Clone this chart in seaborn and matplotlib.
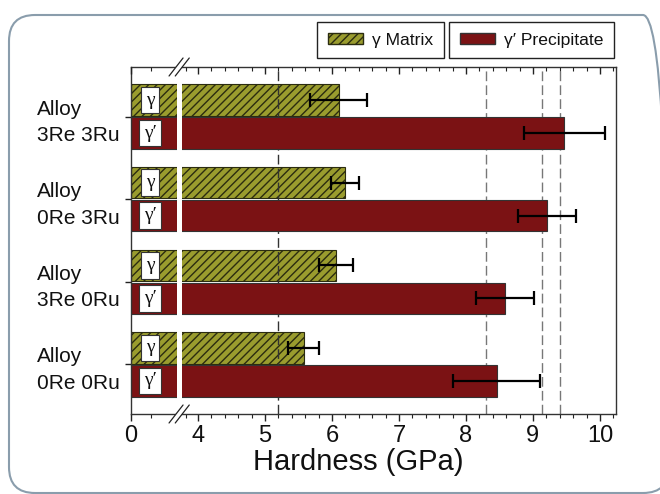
import numpy as np
import pandas as pd
import matplotlib
matplotlib.use("Agg")
import matplotlib.pyplot as plt
import seaborn as sns
from matplotlib.patches import Patch, FancyBboxPatch, Polygon
from matplotlib.transforms import IdentityTransform

# ---- data ----
alloys = ["Alloy\n3Re 3Ru", "Alloy\n0Re 3Ru", "Alloy\n3Re 0Ru", "Alloy\n0Re 0Ru"]
phases = ["γ Matrix", "γ′ Precipitate"]
gamma_hardness = [6.10, 6.20, 6.06, 5.58]
gamma_err = [0.43, 0.21, 0.25, 0.23]
gprime_hardness = [9.47, 9.21, 8.58, 8.46]
gprime_err = [0.60, 0.43, 0.43, 0.65]
ref_lines = [5.2, 8.3, 9.14, 9.4]
xtick_values = [0, 4, 5, 6, 7, 8, 9, 10]
box_labels = ["γ", "γ′"]

OLIVE = "#9a9c2e"
HATCH = "#2b2c10"
RED = "#7b1214"
INK = "#111111"

df = pd.DataFrame({
    "alloy": alloys * 2,
    "phase": [phases[0]] * 4 + [phases[1]] * 4,
    "hardness": gamma_hardness + gprime_hardness,
})

sns.set_theme(style="white")
plt.rcParams["font.family"] = ["Liberation Sans", "DejaVu Sans"]
plt.rcParams["hatch.linewidth"] = 1.0
plt.rcParams["text.color"] = INK
plt.rcParams["axes.labelcolor"] = INK
plt.rcParams["xtick.color"] = INK
plt.rcParams["ytick.color"] = INK

W, H = 660, 494
fig = plt.figure(figsize=(W / 100, H / 100), dpi=100)
ax = fig.add_axes([131 / W, 1 - 414 / H, 485 / W, 347 / H])


def fwd(x):
    x = np.asarray(x, dtype=float)
    return np.where(x >= 4, x - 3, x / 4)


def inv(y):
    y = np.asarray(y, dtype=float)
    return np.where(y >= 1, y + 3, y * 4)


sns.barplot(data=df, y="alloy", x="hardness", hue="phase", orient="h",
            order=alloys, hue_order=phases, palette=[OLIVE, RED],
            saturation=1, errorbar=None, width=0.8, gap=0.05, legend=False,
            ax=ax, edgecolor="#333333", linewidth=0.8)

ax.set_xscale("function", functions=(fwd, inv))
ax.set_xlim(0, 10.24)
ax.set_ylim(3.6, -0.6)

# style bars
for bar in ax.containers[0]:
    bar.set_hatch("////")
    bar.set_edgecolor(HATCH)
    bar.set_zorder(1)
for bar in ax.containers[1]:
    bar.set_zorder(2)

# error bars
for cont, vals, errs in [(ax.containers[0], gamma_hardness, gamma_err),
                         (ax.containers[1], gprime_hardness, gprime_err)]:
    ys = [b.get_y() + b.get_height() / 2 for b in cont]
    ax.errorbar(x=vals, y=ys, xerr=errs, fmt="none", ecolor="black",
                elinewidth=1.6, capsize=5, capthick=1.6, zorder=6)

# gamma / gamma' boxes
for cont, lab in zip(ax.containers, box_labels):
    for b in cont:
        yc = b.get_y() + b.get_height() / 2
        ax.text(1.14, yc, lab, ha="center", va="center", fontsize=14,
                family=["Liberation Serif", "DejaVu Serif"], zorder=7,
                bbox=dict(boxstyle="square,pad=0.25", fc="white",
                          ec="#333333", lw=0.8))

# reference dashed lines
for i, v in enumerate(ref_lines):
    ax.axvline(v, ls=(0, (7, 3)), lw=1.0,
               color="#333333" if i == 0 else "#777777", zorder=1.5)

# axis-break stripe
ax.axvspan(2.76, 3.04, ymin=0.003, ymax=0.997, color="white", lw=0, zorder=5)

# ticks
ax.set_xticks(xtick_values)
ax.set_xticklabels([str(v) for v in xtick_values])
minor = [1.2, 3.3] + [v for v in np.round(np.arange(4.2, 10.21, 0.2), 2)
                      if abs(v - round(v)) > 1e-6]
ax.set_xticks(minor, minor=True)
ax.tick_params(axis="x", which="major", direction="out", length=5, width=1,
               labelsize=17, pad=3, color="#222222", bottom=True)
ax.tick_params(axis="x", which="minor", direction="out", length=3, width=0.8,
               color="#222222", bottom=True)
ax.tick_params(axis="y", direction="out", length=4, width=1, left=True,
               labelsize=15, pad=64, color="#222222")
for lbl in ax.get_yticklabels():
    lbl.set_ha("left")
    lbl.set_linespacing(1.5)
ax.set_ylabel("")
ax.set_xlabel("Hardness (GPa)", fontsize=21)
ax.xaxis.set_label_coords((358 - 131) / 485, -0.097)
ax.xaxis.label.set_va("top")

for s in ax.spines.values():
    s.set_color("#333333")
    s.set_linewidth(1.0)

# top ticks pointing inward
ax2 = ax.twiny()
ax2.set_xscale("function", functions=(fwd, inv))
ax2.set_xlim(ax.get_xlim())
ax2.set_xticks(xtick_values)
ax2.set_xticks(minor, minor=True)
ax2.tick_params(axis="x", which="major", direction="in", length=5, width=1,
                labeltop=False, top=True, color="#222222")
ax2.tick_params(axis="x", which="minor", direction="in", length=3, width=0.8,
                top=True, color="#222222")
for s in ax2.spines.values():
    s.set_visible(False)

# break marks on top and bottom spines
xmax_disp = fwd(10.24)
c1, c2 = fwd(2.69) / xmax_disp, fwd(3.06) / xmax_disp
dx, dy = 7 / 485, 9 / 347
for yb in (0.0, 1.0):
    poly = Polygon([(c1 - dx, yb - dy), (c1 + dx, yb + dy),
                    (c2 + dx, yb + dy), (c2 - dx, yb - dy)],
                   closed=True, transform=ax.transAxes, fc="white", ec="none",
                   clip_on=False, zorder=10)
    ax.add_patch(poly)
    for c in (c1, c2):
        ax.plot([c - dx, c + dx], [yb - dy, yb + dy], transform=ax.transAxes,
                color="#222222", lw=0.9, clip_on=False, zorder=11)

# legends (two separate boxes)
h1 = Patch(facecolor=OLIVE, edgecolor=HATCH, hatch="////", label=phases[0])
h2 = Patch(facecolor=RED, edgecolor="#333333", label=phases[1])
for h, x0 in [(h1, 317), (h2, 449)]:
    leg = fig.legend(handles=[h], loc="upper left",
                     bbox_to_anchor=(x0 / W, 1 - 22 / H), frameon=True,
                     fancybox=False, edgecolor="#222222", framealpha=1,
                     fontsize=12.6, handlelength=2.0, handleheight=0.6,
                     handletextpad=0.55, borderpad=0.6, borderaxespad=0)
    leg.get_frame().set_linewidth(1.0)

# outer rounded frame
frame = FancyBboxPatch((9, 1), 660, 478,
                       boxstyle="round,pad=0,rounding_size=26",
                       transform=IdentityTransform(), fill=False,
                       ec="#8a9dac", lw=1.5)
fig.patches.append(frame)

fig.savefig("out.png", dpi=100)
